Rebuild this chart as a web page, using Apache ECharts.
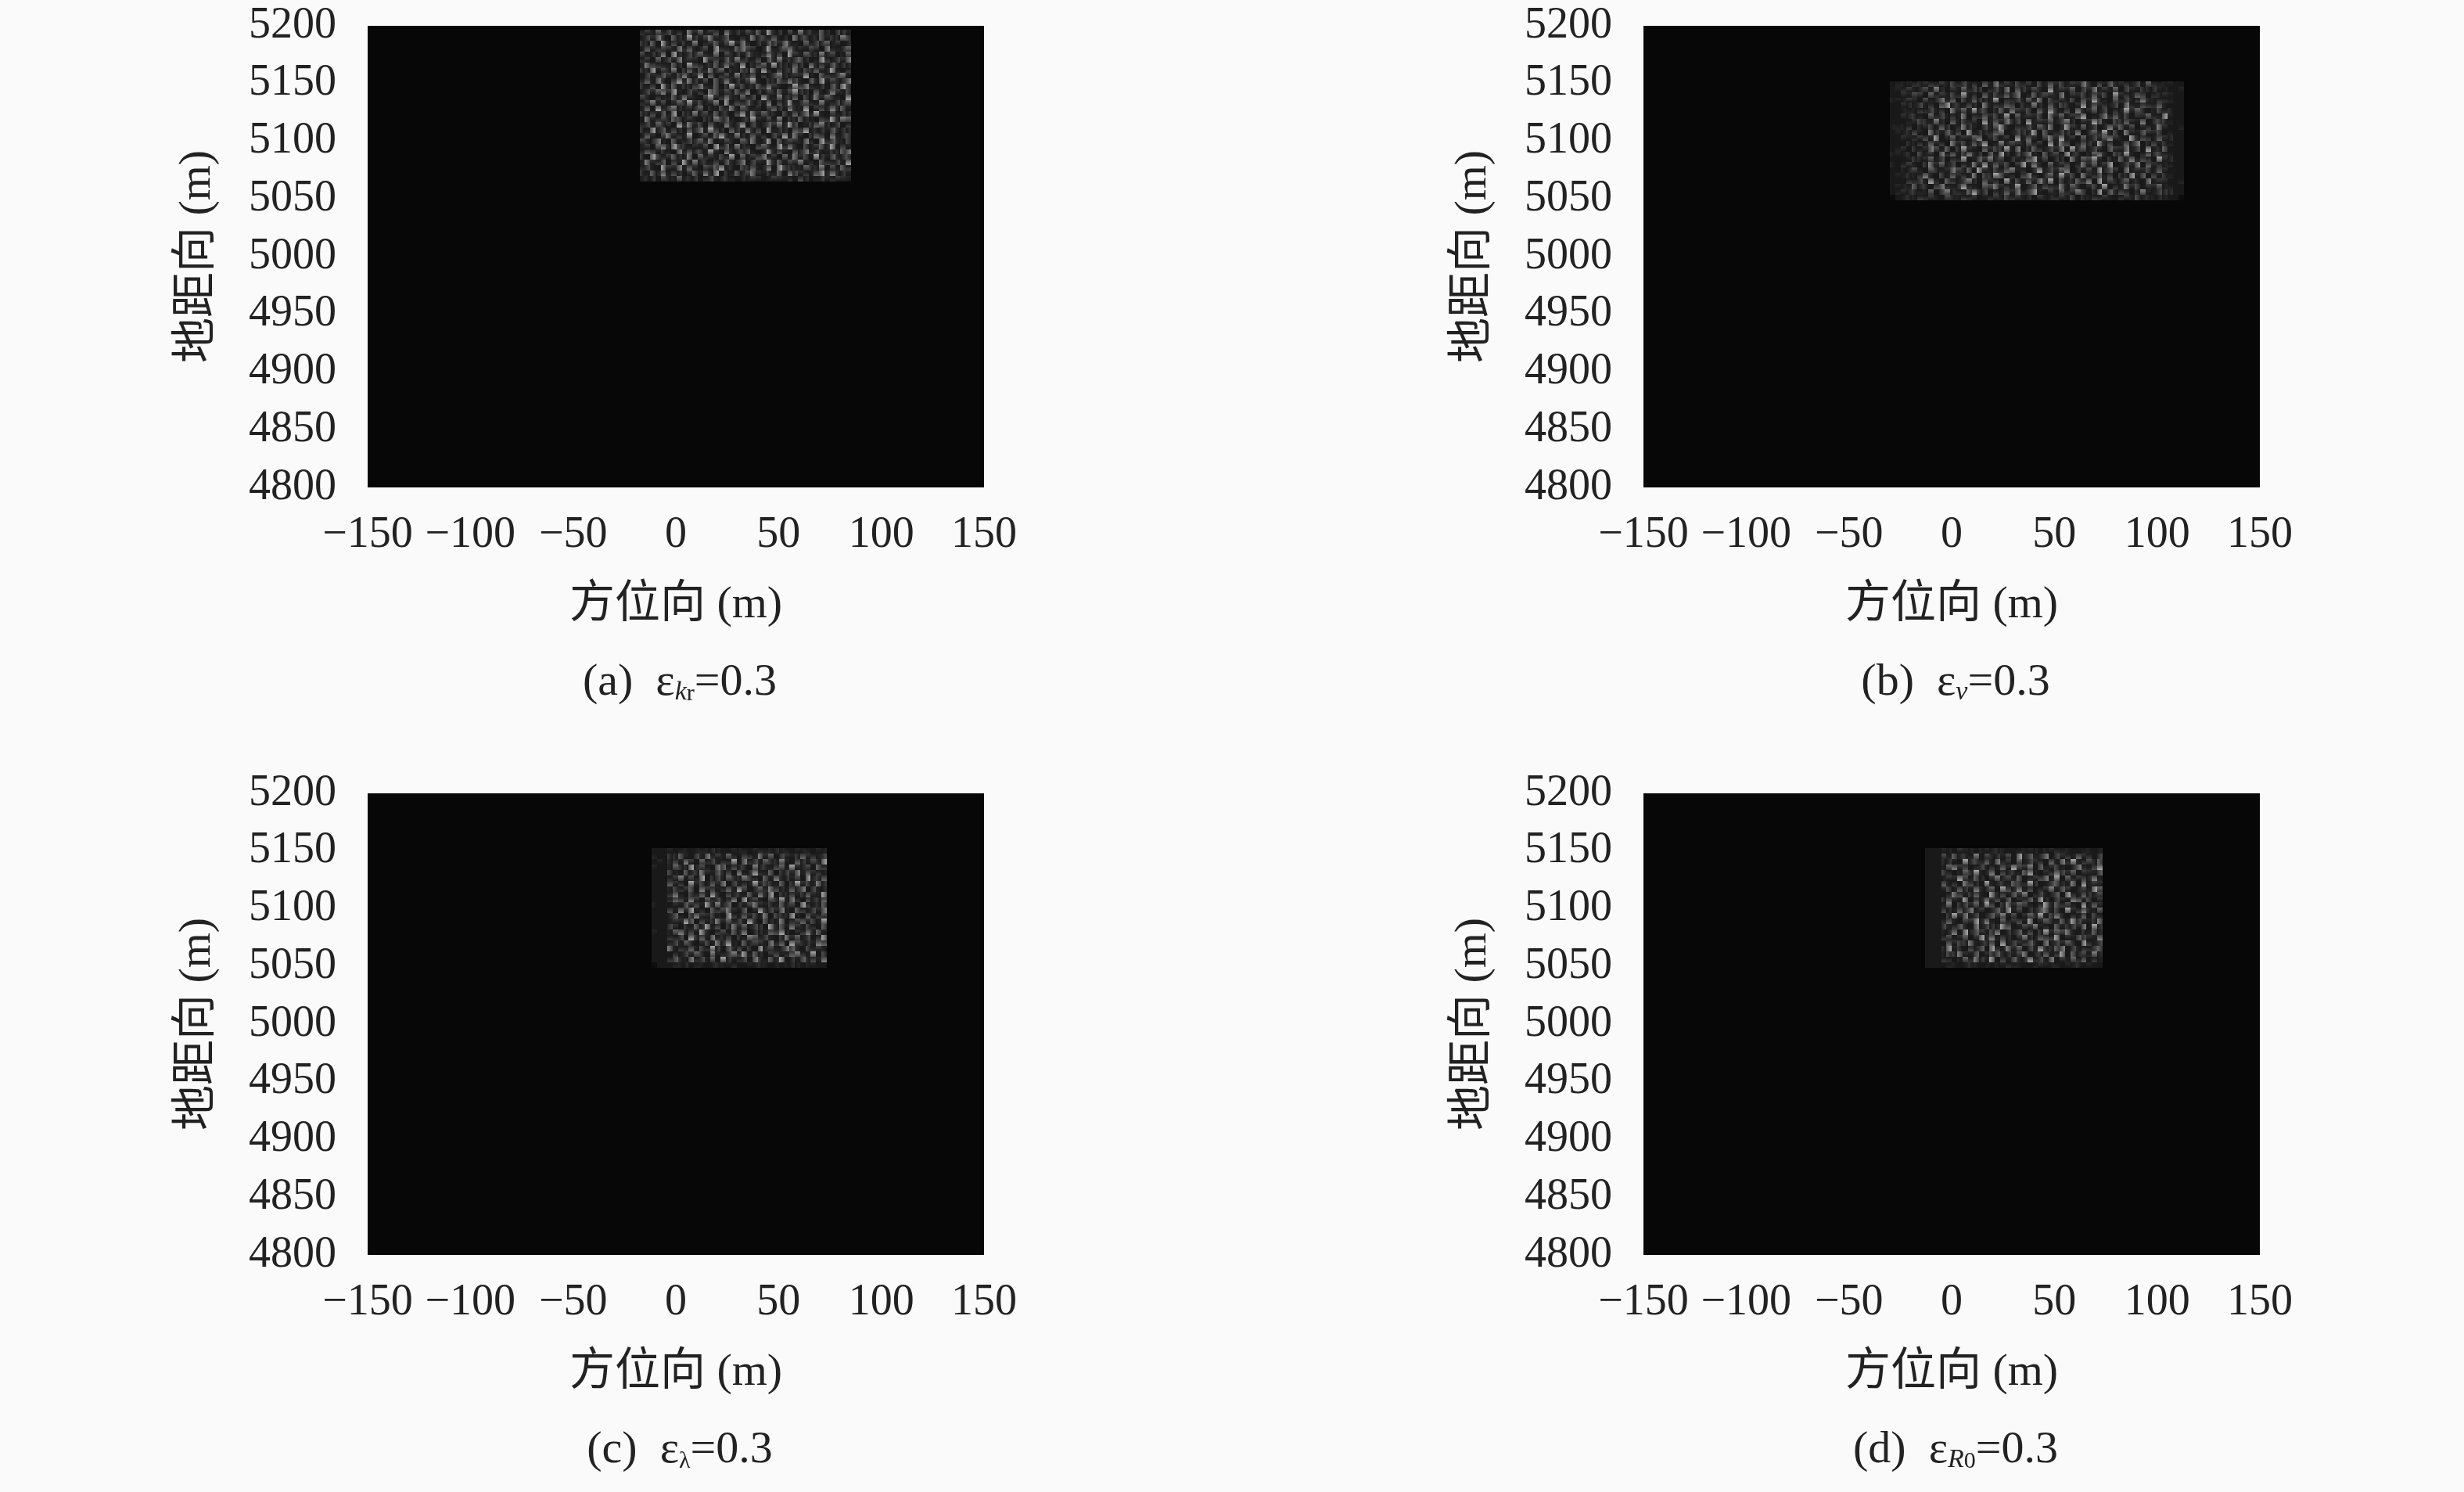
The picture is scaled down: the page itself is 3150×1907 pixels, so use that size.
<!DOCTYPE html>
<html><head><meta charset="utf-8">
<style>html,body{margin:0;padding:0;background:#fafafa}#c{width:3150px;height:1907px}</style>
<script src="https://cdn.jsdelivr.net/npm/echarts@6/dist/echarts.min.js"></script></head>
<body><div id="c"></div>
<script>
const azimuthRange = [-150, 150];
const rangeRange = [4800, 5200];
const azimuthStep = 50;
const rangeStep = 50;
const xName = '方位向 (m)';
const yName = '地距向 (m)';
const captions = [
  '{t|(a)  ε}{s|k}{r|r}{t|=0.3}',
  '{t|(b)  ε}{s|v}{t|=0.3}',
  '{t|(c)  ε}{r|λ}{t|=0.3}',
  '{t|(d)  ε}{s|R}{r|0}{t|=0.3}'
];
// Patch extents in data units: [azimuth from, azimuth to, range top, range bottom]
const extentA = [-17.7, 85.2, 5196.6, 5065];
const extentB = [-30, 113, 5152, 5049];
const extentC = [-11.8, 73.4, 5152.5, 5049];
const extentD = [-13, 73.5, 5152.5, 5049];
// Brightness levels 0-9 estimated by eye from the reference, top row first
const speckleA = [
'34263 52417 36245 17342 53628 34152 73426 31542','25374 16328 42573 36214 27453 62317 45236 24375','43618 35242 71346 25837 31426 53742 16354 62413','26345 42736 23518 43267 54138 24673 32541 73246',
'52437 18325 46327 15342 63247 35184 26437 35126','34162 53724 31845 26374 42516 37245 63128 42537','27543 26318 54236 37428 13562 84326 41735 26343','43825 37146 25374 61325 47283 15347 25463 38214',
'15346 42573 38162 45273 36142 57324 38216 43572','36274 15837 42516 37342 58214 36475 21638 25347','42518 36243 57326 14835 23647 42138 57324 16385','25367 48215 34176 25364 71425 36258 43162 37425',
'53142 26374 21583 47326 35184 27346 15273 64218','34725 13648 35247 18254 63427 15382 46327 23546','26183 57324 46132 53726 42315 64273 28145 37362','43526 28143 73526 34158 27364 31526 47382 15243',
'17345 36524 21437 56213 48325 27143 63215 48376','35264 41837 35162 27348 15236 47385 12467 32514','42836 25316 47285 31642 73518 24316 58234 26343','26315 73428 13526 84273 26341 53827 31465 17245',
'53472 16235 46371 25316 47238 16354 27318 46325','24167 38542 32518 46273 31564 28473 15246 38152','36524 21736 45283 17345 62138 35216 47352 24367','41853 46327 16342 53816 24573 41627 35184 26345',
'27346 15283 73425 26347 15328 36254 72316 43528','35218 43726 31546 82315 46237 18543 26437 15264','42637 25314 62738 14263 57324 26175 34268 37342','23415 32623 41352 34213 24312 43231 53124 23432'
];
const speckleB = [
'122233 343425 352416 273425 341526 352437 415263 342516 322211','123423 527314 263541 352716 425318 243615 372426 153243 422112','113254 163425 382416 253647 126354 271435 263518 342651 333211',
'222431 524736 152643 281435 263715 342516 384216 352473 243211','113325 241683 425317 243651 427316 254138 263425 173254 362111','112224 352417 362845 136274 351628 425173 362514 283641 253311',
'113342 163524 271436 352816 243517 362458 124736 251436 328211','111235 427316 253418 263745 182436 257314 386215 463271 454211','222413 352641 374215 268314 352647 138426 251374 625134 273112',
'122352 174263 518243 367125 438162 354271 463825 173264 351211','113234 528136 243671 352418 263157 382416 253674 218354 263311','111324 263417 352648 127354 263418 275136 428351 264713 524211',
'123142 375261 483216 354827 136425 371846 253164 372518 236111','222315 241736 257341 628315 472163 528341 267315 482136 453211','111243 362514 381264 735142 368251 431726 583142 637254 183311',
'213421 473625 142738 263514 827316 245137 362481 253716 342211','112352 164237 536184 253672 314825 367142 528364 172435 263111','122324 731526 342715 486231 573146 283517 346251 438261 524211',
'111435 283164 257316 341825 263748 152364 718253 462317 243112','122263 415732 483216 573428 136254 372641 352814 273514 362211','123342 261573 326845 142637 358214 263475 138263 541372 254311',
'012324 342153 243412 342534 231423 342513 243421 342523 232110'
];
const speckleC = [
'111 21221 22232 11222 12322 32212 22122','211 43621 52734 26315 42736 15324 63425','121 35274 16352 43817 35264 37216 42538','211 26438 35217 62534 17342 56283 35164',
'111 52163 47326 35172 48326 14537 26342','111 34725 28145 26437 53162 73425 18346','111 63418 35263 71524 28354 26148 35274','111 25346 17452 36285 14637 53264 71523',
'111 47215 36284 15342 62738 14352 46328','111 36527 41635 24718 35216 48273 15346','211 13264 52837 36142 57324 26351 84236','111 52748 23164 57326 13845 37216 42537',
'111 36215 74352 18426 35271 54382 16345','111 24386 15247 36352 84163 27145 63528','111 53142 63825 14736 25418 36274 25316','211 26735 28314 52637 14326 58213 47362',
'111 43518 46273 35142 76352 14736 25148','111 35264 13527 48216 35427 36185 34276','111 72436 25384 16352 41835 24763 15342','111 14253 64172 35748 26314 52367 42815',
'111 46327 35261 84235 17426 38142 63527','011 12231 22123 22311 22321 21232 12211'
];
const speckleD = [
'111 22132 21222 32112 22212 23221 12212','111 52634 27153 42518 36247 15342 63415','111 34218 45362 73416 25341 62738 24536','111 26745 13524 26385 47162 35214 73258',
'111 53126 48237 15342 68213 47536 14326','111 24385 26314 73526 13457 28163 45372','111 62417 53182 34265 38412 56327 18243','111 35264 27346 18537 25134 72641 35286',
'111 13752 46218 35264 71352 36184 26435','111 46328 15374 52613 46283 15327 63514','111 27145 36285 14736 52148 36452 18263','111 53264 72413 63825 14367 25183 47326',
'111 14837 25136 47251 36482 57314 26153','111 36215 48372 16345 28136 42638 53247','111 52463 17254 38612 54723 16245 37184','111 23718 36425 71436 25148 36572 14263',
'111 45236 14837 25314 73265 48132 65327','111 16354 72346 18253 46317 25364 18425','111 38241 53618 42736 15284 36715 24356','111 25473 26135 63425 71346 24816 35273',
'111 43126 37428 15263 48352 71426 36142','111 12212 32121 22322 11232 22122 31211'
];
const panels = [[extentA, speckleA], [extentB, speckleB], [extentC, speckleC], [extentD, speckleD]];
const grayLevels = ['#0d0d0d','#191919','#262626','#333333','#404040','#505050','#666666','#848484','#aaaaaa','#cccccc'];

const LATIN = '"Liberation Serif","Noto Sans CJK SC",serif';
const boxes = [[470, 33], [2101, 33], [470, 1014], [2101, 1014]];
const W = 788, H = 590;
const grid = [], xAxis = [], yAxis = [], series = [], title = [];

function cellsOf(extent, rows) {
  const clean = rows.map(r => r.replace(/ /g, ''));
  const nCols = clean[0].length, nRows = clean.length;
  const dx = (extent[1] - extent[0]) / nCols, dy = (extent[3] - extent[2]) / nRows;
  const out = [];
  clean.forEach((r, j) => {
    for (let i = 0; i < r.length; i++) {
      out.push([extent[0] + i * dx, extent[2] + j * dy, extent[0] + (i + 1) * dx, extent[2] + (j + 1) * dy, +r[i]]);
    }
  });
  return out;
}
// The reference's blocks are shaded across, not flat: each cell fades along one side.
const fades = [[0, 0, 1, 0], [0, 0, 0, 1], [1, 0, 0, 0], [0, 1, 0, 0]];
function renderCell(params, api) {
  const a = api.coord([api.value(0), api.value(1)]);
  const b = api.coord([api.value(2), api.value(3)]);
  const x = Math.round(a[0]), y = Math.round(a[1]);
  const v = api.value(4);
  const f = fades[params.dataIndex % 4 === 0 ? (v % 4) : ((params.dataIndex + v) % 4)];
  const fill = v < 2 ? grayLevels[v] : { type: 'linear', x: f[0], y: f[1], x2: f[2], y2: f[3], colorStops: [
    { offset: 0, color: grayLevels[v] },
    { offset: 1, color: grayLevels[Math.max(v - 3, 1)] }
  ] };
  return { type: 'rect', shape: { x, y, width: Math.round(b[0]) - x, height: Math.round(b[1]) - y }, style: { fill } };
}

boxes.forEach((b, i) => {
  grid.push({ left: b[0], top: b[1], width: W, height: H, show: true, backgroundColor: '#070707', borderWidth: 0 });
  xAxis.push({ type: 'value', gridIndex: i, min: azimuthRange[0], max: azimuthRange[1], interval: azimuthStep,
    name: xName, nameLocation: 'middle', nameGap: 122,
    nameTextStyle: { fontFamily: LATIN, fontSize: 58, color: '#222' },
    axisLine: { show: false }, axisTick: { show: false }, splitLine: { show: false },
    axisLabel: { margin: 33, fontFamily: LATIN, fontSize: 56, color: '#222', hideOverlap: false, showMinLabel: true, showMaxLabel: true,
      formatter: v => String(v).replace('-', '\u2212') } });
  yAxis.push({ type: 'value', gridIndex: i, min: rangeRange[0], max: rangeRange[1], interval: rangeStep,
    name: yName, nameLocation: 'middle', nameGap: 188, nameRotate: 90,
    nameTextStyle: { fontFamily: LATIN, fontSize: 58, color: '#222' },
    axisLine: { show: false }, axisTick: { show: false }, splitLine: { show: false },
    axisLabel: { margin: 40, fontFamily: LATIN, fontSize: 56, color: '#222', hideOverlap: false, showMinLabel: true, showMaxLabel: true,
      formatter: v => String(v) } });
  series.push({ type: 'custom', xAxisIndex: i, yAxisIndex: i, coordinateSystem: 'cartesian2d', silent: true,
    animation: false, progressive: 0, clip: true, renderItem: renderCell,
    encode: { x: [0, 2], y: [1, 3] }, data: cellsOf(panels[i][0], panels[i][1]) });
  title.push({ text: captions[i], left: b[0] + W / 2, top: b[1] + 806, textAlign: 'center',
    textStyle: { fontWeight: 'normal', rich: {
      t: { fontFamily: LATIN, fontWeight: 'normal', fontSize: 58, color: '#222' },
      s: { fontFamily: LATIN, fontWeight: 'normal', fontStyle: 'italic', fontSize: 34, color: '#222', verticalAlign: 'bottom', padding: [22, 0, 0, 0] },
      r: { fontFamily: LATIN, fontWeight: 'normal', fontSize: 30, color: '#222', verticalAlign: 'bottom', padding: [26, 0, 0, 0] }
    } } });
});
const chart = echarts.init(document.getElementById('c'), null, { renderer: 'canvas' });
chart.setOption({ animation: false, backgroundColor: '#fafafa', grid, xAxis, yAxis, series, title });
</script></body></html>
